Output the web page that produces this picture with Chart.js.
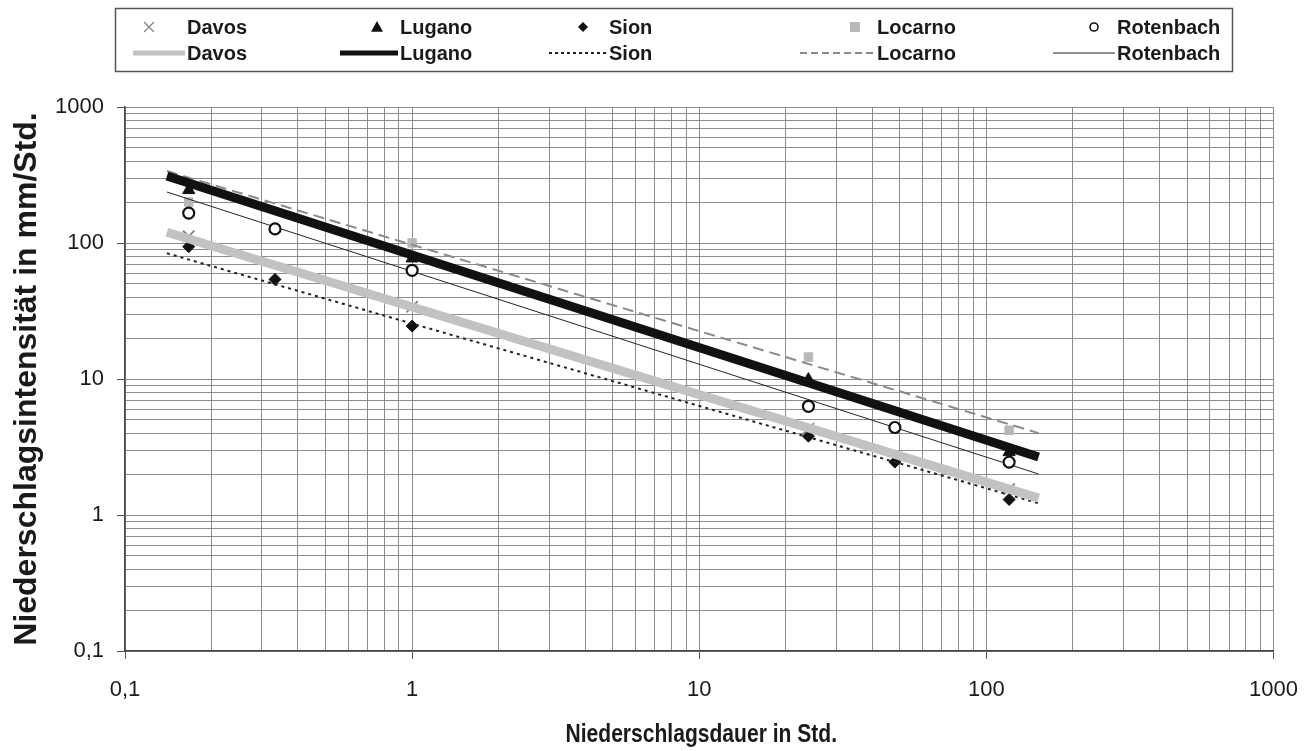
<!DOCTYPE html>
<html><head><meta charset="utf-8">
<script src="https://cdn.jsdelivr.net/npm/chart.js@4.4.1/dist/chart.umd.min.js"></script>
<style>html,body{margin:0;padding:0;background:#fff;} canvas{display:block;}</style>
</head><body>
<canvas id="c" width="1316" height="751" style="width:1316px;height:751px"></canvas>
<script>
// ---- data ----
const stations = ['Davos', 'Lugano', 'Sion', 'Locarno', 'Rotenbach'];
const davosX = [0.1667, 1, 24, 120];
const davosY = [112, 34, 4.3, 1.55];
const luganoX = [0.1667, 1, 24, 120];
const luganoY = [245, 77, 9.9, 2.9];
const sionX = [0.1667, 0.333, 1, 24, 48, 120];
const sionY = [94, 54, 24.5, 3.8, 2.45, 1.3];
const locarnoX = [0.1667, 1, 24, 120];
const locarnoY = [200, 100, 14.5, 4.2];
const rotenbachX = [0.1667, 0.333, 1, 24, 48, 120];
const rotenbachY = [166, 127, 63, 6.3, 4.4, 2.45];
// power-law trend lines: value at start and end of the fitted range
const trendX = [0.14, 152];
const davosTrend = [120, 1.33];
const luganoTrend = [311, 2.67];
const sionTrend = [84, 1.22];
const locarnoTrend = [338, 4.0];
const rotenbachTrend = [237, 2.0];
const xTickLabels = ['0,1', '1', '10', '100', '1000'];
const yTickLabels = ['0,1', '1', '10', '100', '1000'];
const xTitle = 'Niederschlagsdauer in Std.';
const yTitle = 'Niederschlagsintensität in mm/Std.';

const pts = (xs, ys) => xs.map((x, i) => ({x: x, y: ys[i]}));
const FONT = '"Liberation Sans", Arial, sans-serif';

// ---- styles ----
const markerStyles = [
  {pointStyle: 'crossRot', radius: 8, color: '#808080', fill: '#808080', bw: 1.8},
  {pointStyle: 'triangle', radius: 7, color: '#111', fill: '#111', bw: 1},
  {pointStyle: 'rectRot', radius: 6, color: '#111', fill: '#111', bw: 1},
  {pointStyle: 'rect', radius: 6, color: '#b8b8b8', fill: '#b8b8b8', bw: 1},
  {pointStyle: 'circle', radius: 5.5, color: '#111', fill: '#fff', bw: 2.2}
];
const lineStyles = [
  {color: '#c2c2c2', width: 9, dash: []},
  {color: '#111', width: 9, dash: []},
  {color: '#222', width: 2, dash: [3, 4]},
  {color: '#8a8a8a', width: 2, dash: [11, 6]},
  {color: '#222', width: 1, dash: []}
];
const markerData = [pts(davosX, davosY), pts(luganoX, luganoY), pts(sionX, sionY), pts(locarnoX, locarnoY), pts(rotenbachX, rotenbachY)];
const trendData = [davosTrend, luganoTrend, sionTrend, locarnoTrend, rotenbachTrend].map(t => pts(trendX, t));

const datasets = [];
stations.forEach((s, i) => {
  const m = markerStyles[i];
  datasets.push({
    label: s, data: markerData[i], showLine: false,
    pointStyle: m.pointStyle, pointRadius: m.radius, pointHoverRadius: m.radius,
    borderColor: m.color, backgroundColor: m.fill, pointBorderWidth: m.bw,
    order: i === 4 ? 0 : 2
  });
});
stations.forEach((s, i) => {
  const l = lineStyles[i];
  datasets.push({
    label: s, data: trendData[i], showLine: true, pointRadius: 0,
    borderColor: l.color, borderWidth: l.width, borderDash: l.dash,
    borderCapStyle: 'butt', order: 1
  });
});

// ---- legend / title layout ----
const legendBox = {x: 115, y: 8, w: 1117, h: 63};
const legendRowY = [27, 53];
const legendCols = [
  {marker: 149, text: 187, line: [133, 185]},
  {marker: 377, text: 400, line: [340, 398]},
  {marker: 583, text: 609, line: [549, 607]},
  {marker: 855, text: 877, line: [800, 874]},
  {marker: 1094, text: 1117, line: [1053, 1115]}
];

function drawMarker(ctx, style, x, y, r) {
  ctx.save();
  ctx.strokeStyle = style.color; ctx.fillStyle = style.fill; ctx.lineWidth = style.bw;
  ctx.beginPath();
  if (style.pointStyle === 'crossRot') {
    ctx.lineWidth = 1.2;
    ctx.moveTo(x - r, y - r); ctx.lineTo(x + r, y + r);
    ctx.moveTo(x + r, y - r); ctx.lineTo(x - r, y + r);
    ctx.stroke();
  } else if (style.pointStyle === 'triangle') {
    ctx.moveTo(x, y - r); ctx.lineTo(x + r, y + r * 0.8); ctx.lineTo(x - r, y + r * 0.8); ctx.closePath(); ctx.fill();
  } else if (style.pointStyle === 'rectRot') {
    ctx.moveTo(x, y - r); ctx.lineTo(x + r, y); ctx.lineTo(x, y + r); ctx.lineTo(x - r, y); ctx.closePath(); ctx.fill();
  } else if (style.pointStyle === 'rect') {
    ctx.fillRect(x - r, y - r, 2 * r, 2 * r);
  } else {
    ctx.lineWidth = 1.6;
    ctx.arc(x, y, r, 0, Math.PI * 2); ctx.fill(); ctx.stroke();
  }
  ctx.restore();
}

const legendPlugin = {
  id: 'customLegend',
  afterDraw(chart) {
    const ctx = chart.ctx;
    const ca = chart.chartArea;
    ctx.save();
    ctx.strokeStyle = '#555'; ctx.lineWidth = 1.5;
    ctx.strokeRect(legendBox.x + 0.5, legendBox.y + 0.5, legendBox.w, legendBox.h);
    ctx.font = 'bold 20px ' + FONT;
    ctx.fillStyle = '#1a1a1a'; ctx.textBaseline = 'middle'; ctx.textAlign = 'left';
    stations.forEach((s, i) => {
      const c = legendCols[i];
      drawMarker(ctx, markerStyles[i], c.marker, legendRowY[0], [5, 6, 5, 5, 4][i]);
      ctx.fillText(s, c.text, legendRowY[0] + 1);
      const l = lineStyles[i];
      ctx.save();
      ctx.strokeStyle = l.color; ctx.lineWidth = Math.min(l.width, [5, 5, 2, 2, 1][i]);
      ctx.setLineDash(i === 2 ? [3, 3] : (i === 3 ? [7, 4] : []));
      ctx.beginPath(); ctx.moveTo(c.line[0], legendRowY[1]); ctx.lineTo(c.line[1], legendRowY[1]); ctx.stroke();
      ctx.restore();
      ctx.fillText(s, c.text, legendRowY[1] + 1);
    });
    // axis titles
    ctx.textAlign = 'center'; ctx.textBaseline = 'middle';
    ctx.save();
    ctx.translate(27, (ca.top + ca.bottom) / 2);
    ctx.rotate(-Math.PI / 2);
    ctx.font = 'bold 32px ' + FONT;
    ctx.fillText(yTitle, 0, 0);
    ctx.restore();
    ctx.save();
    ctx.translate((ca.left + ca.right) / 2 + 2, 735);
    ctx.scale(0.81, 1);
    ctx.font = 'bold 26px ' + FONT;
    ctx.fillText(xTitle, 0, 0);
    ctx.restore();
    ctx.restore();
  }
};

function logTicks(scale) {
  const t = [];
  for (let e = -1; e < 3; e++) {
    for (let m = 1; m < 10; m++) t.push({value: m * Math.pow(10, e)});
  }
  t.push({value: 1000});
  scale.ticks = t;
}
function majorIndex(v) {
  const e = Math.log10(v);
  return Math.abs(e - Math.round(e)) < 1e-6 ? Math.round(e) + 1 : -1;
}
const gridColor = '#8c8c8c';

new Chart(document.getElementById('c'), {
  type: 'scatter',
  data: {datasets: datasets},
  plugins: [legendPlugin],
  options: {
    responsive: false, animation: false, devicePixelRatio: 1,
    layout: {padding: {top: 107, right: 39, left: 0, bottom: 0}},
    plugins: {legend: {display: false}, tooltip: {enabled: false}},
    scales: {
      x: {
        type: 'logarithmic', min: 0.1, max: 1000,
        afterBuildTicks: logTicks,
        afterFit: s => { s.height = 100; },
        border: {color: '#444', width: 1.5},
        grid: {color: gridColor, lineWidth: 1, tickLength: 8,
          tickColor: c => (c.tick && majorIndex(c.tick.value) >= 0) ? '#555' : 'rgba(0,0,0,0)'},
        ticks: {autoSkip: false, maxRotation: 0, padding: 18, color: '#1a1a1a',
          font: {family: FONT, size: 22},
          callback: v => { const k = majorIndex(v); return k >= 0 ? xTickLabels[k] : ''; }},
        title: {display: false}
      },
      y: {
        type: 'logarithmic', min: 0.1, max: 1000,
        afterBuildTicks: logTicks,
        afterFit: s => { s.width = 125; },
        border: {color: '#444', width: 1.5},
        grid: {color: gridColor, lineWidth: 1, tickLength: 8,
          tickColor: c => (c.tick && majorIndex(c.tick.value) >= 0) ? '#555' : 'rgba(0,0,0,0)'},
        ticks: {autoSkip: false, padding: 13, color: '#1a1a1a',
          font: {family: FONT, size: 22},
          callback: v => { const k = majorIndex(v); return k >= 0 ? yTickLabels[k] : ''; }},
        title: {display: false}
      }
    }
  }
});
</script>
</body></html>
